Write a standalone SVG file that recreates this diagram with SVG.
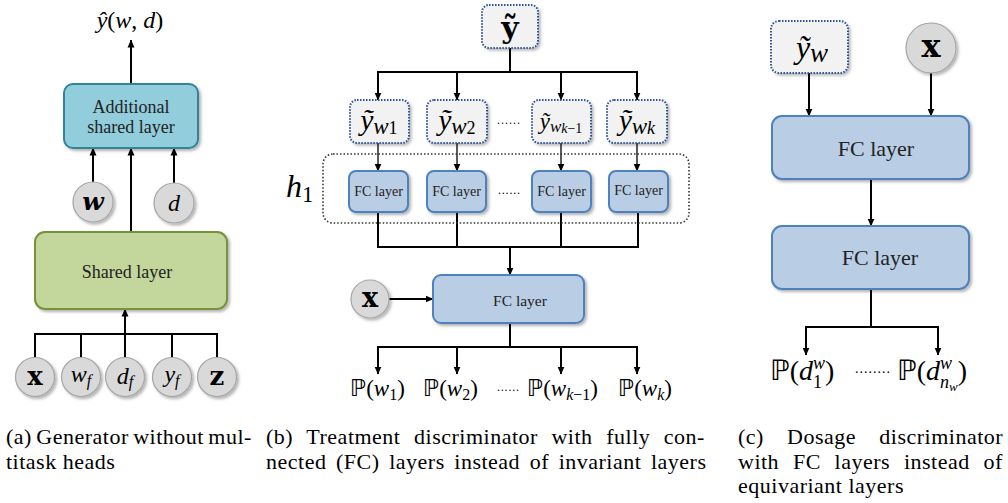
<svg xmlns="http://www.w3.org/2000/svg" width="1008" height="503" viewBox="0 0 1008 503">
<style>
.cap{font-family:"Liberation Serif","Times New Roman",Times,serif;font-size:22px;letter-spacing:0.5px;fill:#000}
.lbl{font-family:"Liberation Serif","Times New Roman",Times,serif;fill:#222;text-anchor:middle}
.m{font-family:"Liberation Serif","Times New Roman","DejaVu Serif",serif;font-style:italic;fill:#000}
.up{font-family:"Liberation Serif","Times New Roman","DejaVu Serif",serif;font-style:normal}
.bb{font-family:"DejaVu Sans",sans-serif;font-style:normal}
.bf{font-family:"DejaVu Serif",serif;font-weight:bold;fill:#000;text-anchor:middle}
.ln{fill:none;stroke:#000;stroke-width:2}
.ar{marker-end:url(#ah)}
.thin{stroke-width:1.3}
.circ{fill:#D9D9D9;stroke:#A6A6A6;stroke-width:1.2;filter:url(#sh)}
.fc{fill:#B9CDE5;stroke:#4F81BD;stroke-width:2;filter:url(#sh)}
.dot{fill:#F2F2F2;stroke:#2F5597;stroke-width:2;stroke-dasharray:1.5 1.5;filter:url(#sh)}
.dots{font-family:"Liberation Serif","DejaVu Serif",serif;fill:#000}
</style>
<defs>
<marker id="ah" markerUnits="userSpaceOnUse" markerWidth="8" markerHeight="8" refX="7.5" refY="4" orient="auto"><path d="M0,0.5 L8,4 L0,7.5 z" fill="#000"/></marker>
<filter id="sh" x="-20%" y="-20%" width="150%" height="160%"><feDropShadow dx="2" dy="2" stdDeviation="1.5" flood-color="#000" flood-opacity="0.3"/></filter>
</defs>

<!-- connectors -->
<g id="connectors">
  <line class="ln ar" x1="131" y1="84" x2="131" y2="40"/>
  <line class="ln ar" x1="93" y1="182" x2="93" y2="148"/>
  <line class="ln ar" x1="131" y1="232" x2="131" y2="148"/>
  <line class="ln ar" x1="174" y1="183" x2="174" y2="148"/>
  <path class="ln" d="M35,358 V334 H217 V358 M81,358 V334 M125,358 V334 M172,358 V334"/>
  <line class="ln ar" x1="125" y1="334" x2="125" y2="309"/>
  <path class="ln" d="M510,48 V72 M378,72 H637"/>
  <line class="ln ar" x1="378" y1="71" x2="378" y2="100"/>
  <line class="ln ar" x1="457" y1="72" x2="457" y2="100"/>
  <line class="ln ar" x1="561" y1="72" x2="561" y2="100"/>
  <line class="ln ar" x1="637" y1="71" x2="637" y2="100"/>
  <line class="ln thin ar" x1="378" y1="143" x2="378" y2="171"/>
  <line class="ln thin ar" x1="457" y1="143" x2="457" y2="171"/>
  <line class="ln thin ar" x1="561" y1="143" x2="561" y2="171"/>
  <line class="ln thin ar" x1="637" y1="143" x2="637" y2="171"/>
  <path class="ln" d="M378,212 V247 H638 V212 M457,212 V247 M561,212 V247"/>
  <line class="ln ar" x1="510" y1="247" x2="510" y2="275"/>
  <line class="ln ar" x1="389" y1="299" x2="433" y2="299"/>
  <path class="ln" d="M510,323 V347 M378,347 H637"/>
  <line class="ln ar" x1="378" y1="346" x2="378" y2="374"/>
  <line class="ln ar" x1="457" y1="347" x2="457" y2="374"/>
  <line class="ln ar" x1="561" y1="347" x2="561" y2="374"/>
  <line class="ln ar" x1="637" y1="346" x2="637" y2="374"/>
  <line class="ln ar" x1="809" y1="73" x2="809" y2="116"/>
  <line class="ln ar" x1="931" y1="73" x2="931" y2="116"/>
  <line class="ln ar" x1="871" y1="179" x2="871" y2="226"/>
  <path class="ln" d="M871,289 V327 M806,327 H938"/>
  <line class="ln ar" x1="806" y1="326" x2="806" y2="355"/>
  <line class="ln ar" x1="938" y1="326" x2="938" y2="355"/>
</g>

<!-- panel a nodes -->
<g id="a-output">
  <text class="m" x="130" y="28" font-size="24" text-anchor="middle">ŷ<tspan class="up">(</tspan>w<tspan class="up">, </tspan>d<tspan class="up">)</tspan></text>
</g>
<g id="a-additional">
  <rect x="64" y="84" width="134" height="64" rx="9" fill="#92CDDC" stroke="#31849B" stroke-width="2" filter="url(#sh)"/>
  <text class="lbl" x="131" y="113" font-size="18">Additional</text>
  <text class="lbl" x="131" y="133" font-size="18">shared layer</text>
</g>
<g id="a-w">
  <circle class="circ" cx="93" cy="202" r="20"/>
  <text x="93" y="210" font-family="DejaVu Serif, serif" font-weight="bold" font-style="italic" font-size="25" text-anchor="middle">w</text>
</g>
<g id="a-d">
  <circle class="circ" cx="174" cy="203" r="20"/>
  <text class="m" x="174" y="211" font-size="24" text-anchor="middle">d</text>
</g>
<g id="a-shared">
  <rect x="35" y="232" width="192" height="77" rx="10" fill="#C3D69B" stroke="#76923C" stroke-width="2" filter="url(#sh)"/>
  <text class="lbl" x="127" y="278" font-size="18">Shared layer</text>
</g>
<g id="a-x">
  <circle class="circ" cx="35" cy="377" r="19.5"/>
  <text class="bf" x="35" y="385" font-size="26">x</text>
</g>
<g id="a-wf">
  <circle class="circ" cx="81" cy="377" r="19.5"/>
  <text class="m" x="81" y="382" font-size="24" text-anchor="middle">w<tspan font-size="16" dy="4">f</tspan></text>
</g>
<g id="a-df">
  <circle class="circ" cx="125" cy="377" r="19.5"/>
  <text class="m" x="125" y="384" font-size="24" text-anchor="middle">d<tspan font-size="16" dy="3">f</tspan></text>
</g>
<g id="a-yf">
  <circle class="circ" cx="172" cy="377" r="19.5"/>
  <text class="m" x="172" y="382" font-size="24" text-anchor="middle">y<tspan font-size="16" dy="4">f</tspan></text>
</g>
<g id="a-z">
  <circle class="circ" cx="217" cy="377" r="19.5"/>
  <text class="bf" x="217" y="385" font-size="26">z</text>
</g>

<!-- panel b nodes -->
<g id="b-ytilde">
  <rect class="dot" x="482" y="5" width="56" height="43" rx="7"/>
  <text class="bf" x="510" y="38" font-size="30">ỹ</text>
</g>
<g id="b-yw1">
  <rect class="dot" x="350" y="100" width="59" height="43" rx="7"/>
  <text class="m" x="379" y="130" font-size="29" text-anchor="middle">ỹ<tspan font-size="23" dy="4">w</tspan><tspan class="up" font-size="18" dy="0">1</tspan></text>
</g>
<g id="b-yw2">
  <rect class="dot" x="427" y="100" width="60" height="43" rx="7"/>
  <text class="m" x="457" y="130" font-size="29" text-anchor="middle">ỹ<tspan font-size="23" dy="4">w</tspan><tspan class="up" font-size="18" dy="0">2</tspan></text>
</g>
<text class="dots" x="497" y="124" font-size="12" textLength="23">......</text>
<g id="b-ywk1">
  <rect class="dot" x="532" y="100" width="59" height="43" rx="7"/>
  <text class="m" x="561" y="129" font-size="23" text-anchor="middle">ỹ<tspan font-size="17" dy="3">w</tspan><tspan font-size="14" dy="1">k</tspan><tspan class="up" font-size="14">−1</tspan></text>
</g>
<g id="b-ywk">
  <rect class="dot" x="607" y="100" width="60" height="43" rx="7"/>
  <text class="m" x="637" y="130" font-size="29" text-anchor="middle">ỹ<tspan font-size="23" dy="4">w</tspan><tspan font-size="18" dy="0">k</tspan></text>
</g>
<g id="b-h1">
  <rect x="323" y="154" width="366" height="69" rx="10" fill="none" stroke="#333" stroke-width="1.6" stroke-dasharray="1.5 2"/>
  <text class="m" x="286" y="197" font-size="32">h<tspan class="up" font-size="23" dy="5">1</tspan></text>
</g>
<g id="b-fc1">
  <rect class="fc" x="349" y="171" width="59" height="41" rx="7"/>
  <text class="lbl" x="378.5" y="196" font-size="14">FC layer</text>
</g>
<g id="b-fc2">
  <rect class="fc" x="427" y="171" width="59" height="41" rx="7"/>
  <text class="lbl" x="456.5" y="196" font-size="14">FC layer</text>
</g>
<text class="dots" x="498" y="194" font-size="12" textLength="22">......</text>
<g id="b-fc3">
  <rect class="fc" x="532" y="171" width="59" height="41" rx="7"/>
  <text class="lbl" x="561.5" y="196" font-size="14">FC layer</text>
</g>
<g id="b-fc4">
  <rect class="fc" x="609" y="171" width="59" height="41" rx="7"/>
  <text class="lbl" x="638.5" y="195" font-size="14">FC layer</text>
</g>
<g id="b-x">
  <circle class="circ" cx="370" cy="299" r="19"/>
  <text class="bf" x="370" y="307" font-size="27">x</text>
</g>
<g id="b-fcbig">
  <rect class="fc" x="433" y="275" width="151" height="48" rx="8"/>
  <text class="lbl" x="520" y="306" font-size="15.5">FC layer</text>
</g>
<g id="b-p1">
  <text class="m" x="350" y="396" font-size="23"><tspan class="bb">ℙ</tspan><tspan class="up">(</tspan>w<tspan class="up" font-size="16" dy="4">1</tspan><tspan class="up" dy="-4">)</tspan></text>
</g>
<g id="b-p2">
  <text class="m" x="423" y="396" font-size="23"><tspan class="bb">ℙ</tspan><tspan class="up">(</tspan>w<tspan class="up" font-size="16" dy="4">2</tspan><tspan class="up" dy="-4">)</tspan></text>
</g>
<text class="dots" x="497" y="391" font-size="12" textLength="22">......</text>
<g id="b-pk1">
  <text class="m" x="527" y="396" font-size="23"><tspan class="bb">ℙ</tspan><tspan class="up">(</tspan>w<tspan font-size="16" dy="4">k</tspan><tspan class="up" font-size="16">−1</tspan><tspan class="up" dy="-4">)</tspan></text>
</g>
<g id="b-pk">
  <text class="m" x="618" y="396" font-size="23"><tspan class="bb">ℙ</tspan><tspan class="up">(</tspan>w<tspan font-size="16" dy="4">k</tspan><tspan class="up" dy="-4">)</tspan></text>
</g>

<!-- panel c nodes -->
<g id="c-yw">
  <rect class="dot" x="771" y="21" width="77" height="52" rx="8"/>
  <text class="m" x="812" y="58" font-size="32" text-anchor="middle">ỹ<tspan font-size="27" dy="4">w</tspan></text>
</g>
<g id="c-x">
  <circle class="circ" cx="931" cy="48" r="25"/>
  <text class="bf" x="931" y="57" font-size="32">x</text>
</g>
<g id="c-fc1">
  <rect class="fc" x="772" y="116" width="197" height="63" rx="10"/>
  <text class="lbl" x="876" y="156" font-size="22">FC layer</text>
</g>
<g id="c-fc2">
  <rect class="fc" x="772" y="226" width="197" height="63" rx="10"/>
  <text class="lbl" x="880" y="265" font-size="22">FC layer</text>
</g>
<g id="c-p1">
  <text class="m" x="770" y="380" font-size="28"><tspan class="bb">ℙ</tspan><tspan class="up">(</tspan>d<tspan font-size="18" dy="-11">w</tspan><tspan class="up" font-size="18" dx="-12" dy="19">1</tspan><tspan class="up" dx="3" dy="-8">)</tspan></text>
</g>
<text class="dots" x="855" y="373" font-size="14" textLength="35">........</text>
<g id="c-pn">
  <text class="m" x="897" y="380" font-size="28"><tspan class="bb">ℙ</tspan><tspan class="up">(</tspan>d<tspan font-size="18" dy="-11">w</tspan><tspan font-size="18" dx="-12" dy="19">n</tspan><tspan font-size="13" dy="3">w</tspan><tspan class="up" dy="-11">)</tspan></text>
</g>

<!-- captions -->
<g id="captions">
  <text class="cap" x="6" y="444" word-spacing="-1.6">(a) Generator without mul-</text>
  <text class="cap" x="6" y="468.5">titask heads</text>
  <text class="cap" x="266" y="444" word-spacing="7.6">(b) Treatment discriminator with fully con-</text>
  <text class="cap" x="266" y="468.5" word-spacing="3.6">nected (FC) layers instead of invariant layers</text>
  <text class="cap" x="738" y="444" word-spacing="17.2">(c) Dosage discriminator</text>
  <text class="cap" x="738" y="468.5" word-spacing="7.8">with FC layers instead of</text>
  <text class="cap" x="738" y="493">equivariant layers</text>
</g>
</svg>
